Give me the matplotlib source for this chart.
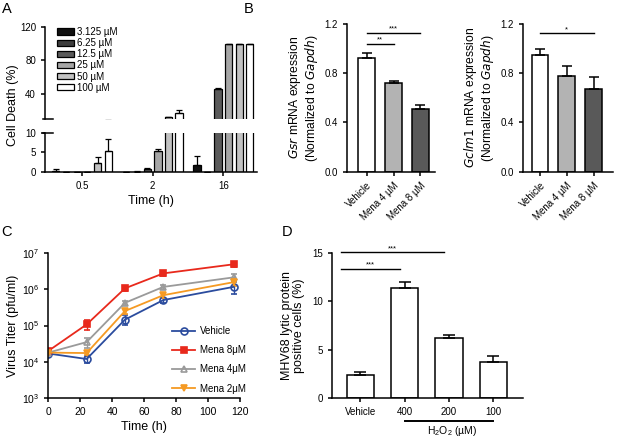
import numpy as np
import matplotlib
matplotlib.use("Agg")
import matplotlib.pyplot as plt
from matplotlib.patches import Patch
from matplotlib.lines import Line2D
from matplotlib.ticker import NullLocator
from matplotlib.transforms import blended_transform_factory

plt.rcParams['font.family'] = ['Liberation Sans', 'DejaVu Sans']
plt.rcParams['axes.linewidth'] = 1.1
plt.rcParams['xtick.major.width'] = 1.1
plt.rcParams['ytick.major.width'] = 1.1
plt.rcParams['xtick.major.size'] = 3
plt.rcParams['ytick.major.size'] = 3
plt.rcParams['xtick.labelsize'] = 7
plt.rcParams['ytick.labelsize'] = 7
plt.rcParams['mathtext.default'] = 'regular'

# ---- data ----
# panel A: cell death per time point, one value per concentration
conc_labels = ['3.125 µM', '6.25 µM', '12.5 µM', '25 µM', '50 µM', '100 µM']
conc_colors = ['#111111', '#3d3d3d', '#5a5a5a', '#a6a6a6', '#c2c2c2', '#ffffff']
time_labels = ['0.5', '2', '16']
death_05h = [0.3, 0.0, 0.0, 0.1, 2.3, 5.4]
err_05h = [0.5, 0.0, 0.0, 0.0, 1.6, 2.9]
death_2h = [0.05, 0.2, 0.9, 5.5, 12.0, 17.3]
err_2h = [0.0, 0.05, 0.1, 0.3, 0.5, 3.7]
death_16h = [1.8, 0.0, 46.0, 100.0, 100.0, 100.0]
err_16h = [2.3, 0.0, 0.5, 0.0, 0.0, 0.0]

# panel B
b_labels = ['Vehicle', 'Mena 4 µM', 'Mena 8 µM']
b_colors = ['#ffffff', '#b3b3b3', '#595959']
gsr_mean = [0.92, 0.72, 0.51]
gsr_err = [0.045, 0.018, 0.033]
gclm1_mean = [0.95, 0.775, 0.67]
gclm1_err = [0.05, 0.085, 0.10]

# panel C: virus titer (pfu/ml), error as fraction of value
hours = [0, 24, 48, 72, 116]
vehicle = [1.7e4, 1.2e4, 1.45e5, 5.0e5, 1.15e6]
vehicle_err = [0.1, 0.2, 0.3, 0.15, 0.35]
mena8 = [2.0e4, 1.07e5, 1.05e6, 2.7e6, 4.8e6]
mena8_err = [0.1, 0.3, 0.15, 0.15, 0.15]
mena4 = [1.8e4, 3.5e4, 4.2e5, 1.15e6, 2.1e6]
mena4_err = [0.1, 0.3, 0.12, 0.12, 0.25]
mena2 = [1.8e4, 1.75e4, 2.5e5, 6.8e5, 1.55e6]
mena2_err = [0.1, 0.12, 0.15, 0.15, 0.2]

# panel D
d_labels = ['Vehicle', '400', '200', '100']
d_mean = [2.35, 11.35, 6.2, 3.7]
d_err = [0.35, 0.7, 0.35, 0.6]

W, H = 617, 440
fig = plt.figure(figsize=(W / 100, H / 100), dpi=100)


def px_axes(l, t, r, b):
    return fig.add_axes([l / W, 1 - b / H, (r - l) / W, (b - t) / H])


def clean(ax):
    ax.spines['top'].set_visible(False)
    ax.spines['right'].set_visible(False)


# ---------------- Panel A ----------------
axA_top = px_axes(45, 27, 257, 119)
axA_bot = px_axes(45, 132.7, 257, 172.3)
group_x = np.array([0.0, 6.7, 13.4])
groups = [(death_05h, err_05h), (death_2h, err_2h), (death_16h, err_16h)]
for ax in (axA_top, axA_bot):
    for g, (vals, errs) in zip(group_x, groups):
        xs = g + np.arange(6) - 2.5
        ax.bar(xs, vals, width=0.68, color=conc_colors, edgecolor='black', linewidth=0.9)
        ax.errorbar(xs, vals, yerr=[np.zeros(6), errs], fmt='none', ecolor='black',
                    elinewidth=0.9, capsize=2.2, capthick=0.9)
    ax.set_xlim(-3.52, 16.6)
    clean(ax)

axA_top.set_ylim(10, 120)
axA_top.set_yticks([40, 80, 120])
axA_top.spines['bottom'].set_visible(False)
axA_top.set_xticks([])
axA_bot.set_ylim(0, 10)
axA_bot.set_yticks([0, 5, 10])
axA_bot.set_xticks(group_x)
axA_bot.set_xticklabels(time_labels)
axA_bot.set_xlabel('Time (h)', fontsize=9, labelpad=3)
# break caps on the y axis
for ax, yy in ((axA_top, 0), (axA_bot, 1)):
    ax.add_line(Line2D([-0.01, 0.036], [yy, yy], transform=ax.transAxes,
                       color='black', lw=1.1, clip_on=False))
fig.text(13 / W, 1 - 105 / H, 'Cell Death (%)', rotation=90, fontsize=9,
         ha='center', va='center')

handles = [Patch(facecolor=c, edgecolor='black', linewidth=0.9) for c in conc_colors]
fig.legend(handles, conc_labels, loc='upper left', bbox_to_anchor=(57 / W, 1 - 27 / H),
           frameon=False, fontsize=7, handlelength=1.75, handleheight=0.6,
           handletextpad=0.35, labelspacing=0.12, borderaxespad=0, borderpad=0)

# ---------------- Panel B ----------------
axB1 = px_axes(346.7, 24, 435, 171.7)
axB2 = px_axes(522.7, 24, 613, 171.7)
bx = np.arange(3)
for ax, m, e, gene, lim in ((axB1, gsr_mean, gsr_err, 'Gsr', (-0.74, 2.54)),
                            (axB2, gclm1_mean, gclm1_err, 'Gclm1', (-0.64, 2.72))):
    ax.bar(bx, m, width=0.62, color=b_colors, edgecolor='black', linewidth=1.1)
    ax.errorbar(bx, m, yerr=[np.zeros(3), e], fmt='none', ecolor='black',
                elinewidth=1.1, capsize=3.5, capthick=1.1)
    ax.set_ylim(0, 1.2)
    ax.set_xlim(*lim)
    ax.set_yticks([0.0, 0.4, 0.8, 1.2])
    ax.set_yticklabels(['0.0', '0.4', '0.8', '1.2'])
    ax.set_xticks(bx)
    ax.set_xticklabels(b_labels, rotation=45, ha='right', rotation_mode='anchor', fontsize=7)
    ax.set_ylabel('$\\it{' + gene + '}$ mRNA expression\n(Normalized to $\\it{Gapdh}$)',
                  fontsize=8.7, labelpad=3, linespacing=1.0)
    clean(ax)


def sig(ax, x0, x1, y, stars):
    ax.plot([x0, x1], [y, y], color='black', lw=1.0, clip_on=False)
    ax.text((x0 + x1) / 2, y, stars, ha='center', va='bottom', fontsize=5.5)


sig(axB1, 0, 1, 1.04, '**')
sig(axB1, 0, 2, 1.13, '***')
sig(axB2, 0, 2, 1.125, '*')

# ---------------- Panel C ----------------
axC = px_axes(48.3, 252.7, 240, 398.3)
series = [
    (vehicle, vehicle_err, 'Vehicle', '#2b4c9e', 'o', 'none'),
    (mena8, mena8_err, 'Mena 8μM', '#e8291c', 's', '#e8291c'),
    (mena4, mena4_err, 'Mena 4μM', '#9a9a9a', '^', 'none'),
    (mena2, mena2_err, 'Mena 2μM', '#f59a23', 'v', '#f59a23'),
]
leg_handles = []
for vals, errs, lab, col, mk, mfc in series:
    v = np.array(vals)
    axC.errorbar(hours, v, yerr=v * np.array(errs), color=col, marker=mk, ms=5,
                 mfc=mfc, mec=col, mew=1.2, lw=1.3, capsize=2, elinewidth=1.0)
    leg_handles.append(Line2D([], [], color=col, marker=mk, ms=5, mfc=mfc, mec=col,
                              mew=1.2, lw=1.3, label=lab))
axC.set_yscale('log')
axC.set_ylim(1e3, 1e7)
axC.yaxis.set_minor_locator(NullLocator())
axC.set_xlim(0, 120)
axC.set_xticks([0, 20, 40, 60, 80, 100, 120])
axC.tick_params(labelsize=7.5)
axC.set_xlabel('Time (h)', fontsize=9, labelpad=3)
axC.set_ylabel('Virus Titer (pfu/ml)', fontsize=9, labelpad=2)
clean(axC)
fig.legend(handles=leg_handles, loc='upper left', bbox_to_anchor=(172 / W, 1 - 326 / H),
           frameon=False, fontsize=7, handlelength=2.4, labelspacing=0.95,
           handletextpad=0.5, borderaxespad=0, borderpad=0)

# ---------------- Panel D ----------------
axD = px_axes(331.7, 253.3, 522.7, 397.7)
dx = np.arange(4)
axD.bar(dx, d_mean, width=0.61, color='white', edgecolor='black', linewidth=1.1)
axD.errorbar(dx, d_mean, yerr=[np.zeros(4), d_err], fmt='none', ecolor='black',
             elinewidth=1.1, capsize=4, capthick=1.1)
axD.set_ylim(0, 15)
axD.set_xlim(-0.64, 3.66)
axD.set_yticks([0, 5, 10, 15])
axD.set_xticks(dx)
axD.set_xticklabels(d_labels)
axD.set_ylabel('MHV68 lytic protein\npositive cells (%)', fontsize=9, labelpad=5,
               linespacing=1.05)
clean(axD)
sig(axD, -0.43, 1.88, 15.1, '***')
sig(axD, -0.43, 0.9, 13.4, '***')
trD = blended_transform_factory(axD.transData, fig.transFigure)
axD.add_line(Line2D([1, 3], [1 - 420.7 / H] * 2, transform=trD, color='black',
                    lw=1.4, clip_on=False))
axD.text(2.07, 1 - 431 / H, 'H$_2$O$_2$ (µM)', transform=trD, ha='center', va='center',
         fontsize=7.5)

# panel letters
for lab, x, y in (('A', 7, 9), ('B', 249, 9), ('C', 7, 232), ('D', 287, 232)):
    fig.text(x / W, 1 - y / H, lab, fontsize=10.5, ha='center', va='center')

fig.savefig('out.png', dpi=100)
